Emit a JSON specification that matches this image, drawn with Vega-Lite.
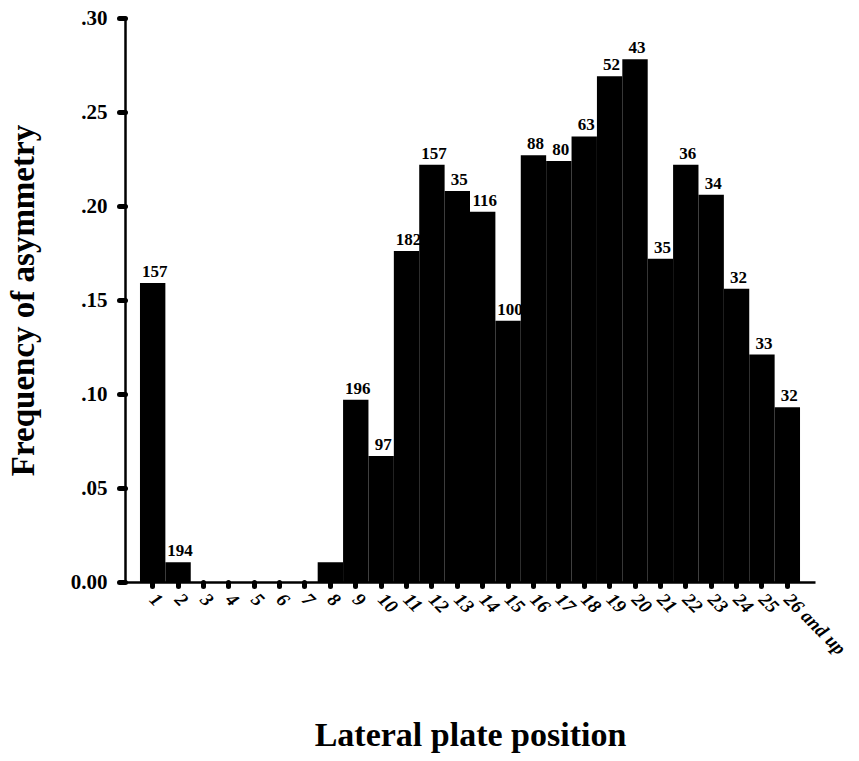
{
  "$schema": "https://vega.github.io/schema/vega-lite/v6.json",
  "width": 690,
  "height": 564,
  "autosize": "none",
  "padding": {"left": 125, "top": 18, "right": 44, "bottom": 179},
  "background": "white",
  "data": {
    "values": [
      {"pos": "1", "freq": 0.159, "n": "157"},
      {"pos": "2", "freq": 0.0105, "n": "194"},
      {"pos": "3", "freq": 0, "n": ""},
      {"pos": "4", "freq": 0, "n": ""},
      {"pos": "5", "freq": 0, "n": ""},
      {"pos": "6", "freq": 0, "n": ""},
      {"pos": "7", "freq": 0, "n": ""},
      {"pos": "8", "freq": 0.0105, "n": ""},
      {"pos": "9", "freq": 0.097, "n": "196"},
      {"pos": "10", "freq": 0.067, "n": "97"},
      {"pos": "11", "freq": 0.176, "n": "182"},
      {"pos": "12", "freq": 0.222, "n": "157"},
      {"pos": "13", "freq": 0.208, "n": "35"},
      {"pos": "14", "freq": 0.197, "n": "116"},
      {"pos": "15", "freq": 0.139, "n": "100"},
      {"pos": "16", "freq": 0.227, "n": "88"},
      {"pos": "17", "freq": 0.224, "n": "80"},
      {"pos": "18", "freq": 0.237, "n": "63"},
      {"pos": "19", "freq": 0.269, "n": "52"},
      {"pos": "20", "freq": 0.278, "n": "43"},
      {"pos": "21", "freq": 0.172, "n": "35"},
      {"pos": "22", "freq": 0.222, "n": "36"},
      {"pos": "23", "freq": 0.206, "n": "34"},
      {"pos": "24", "freq": 0.156, "n": "32"},
      {"pos": "25", "freq": 0.121, "n": "33"},
      {"pos": "26 and up", "freq": 0.093, "n": "32"}
    ]
  },
  "encoding": {
    "x": {
      "field": "pos",
      "type": "nominal",
      "sort": null,
      "scale": {"paddingInner": 0, "paddingOuter": 0.59},
      "title": "Lateral plate position",
      "axis": {
        "labelAngle": 45,
        "labelAlign": "left",
        "labelBaseline": "middle",
        "labelPadding": 10,
        "labelFont": "Liberation Serif",
        "labelFontStyle": "italic",
        "labelFontWeight": "bold",
        "labelFontSize": 19,
        "labelColor": "black",
        "domainColor": "black",
        "domainWidth": 2.5,
        "tickColor": "black",
        "tickSize": 4,
        "tickWidth": 5,
        "tickCap": "round",
        "titleFont": "Liberation Serif",
        "titleFontWeight": "bold",
        "titleFontSize": 34,
        "titleColor": "black",
        "titlePadding": 60
      }
    },
    "y": {
      "field": "freq",
      "type": "quantitative",
      "scale": {"domain": [0, 0.3], "nice": false},
      "title": "Frequency of asymmetry",
      "axis": {
        "values": [0, 0.05, 0.1, 0.15, 0.2, 0.25, 0.3],
        "labelExpr": "datum.value == 0 ? '0.00' : replace(format(datum.value, '.2f'), '0.', '.')",
        "labelFont": "Liberation Serif",
        "labelFontWeight": "bold",
        "labelFontSize": 21,
        "labelColor": "black",
        "labelPadding": 12,
        "grid": false,
        "domainColor": "black",
        "domainWidth": 2.5,
        "tickColor": "black",
        "tickSize": 6,
        "tickWidth": 5,
        "tickCap": "round",
        "titleFont": "Liberation Serif",
        "titleFontWeight": "bold",
        "titleFontSize": 33,
        "titleColor": "black",
        "titlePadding": 30
      }
    }
  },
  "layer": [
    {"mark": {"type": "bar", "color": "black"}},
    {
      "mark": {
        "type": "text",
        "font": "Liberation Serif",
        "fontWeight": "bold",
        "fontSize": 17,
        "color": "black",
        "baseline": "alphabetic",
        "dy": -6,
        "dx": 2
      },
      "encoding": {"text": {"field": "n"}}
    }
  ],
  "config": {"view": {"stroke": null}}
}
